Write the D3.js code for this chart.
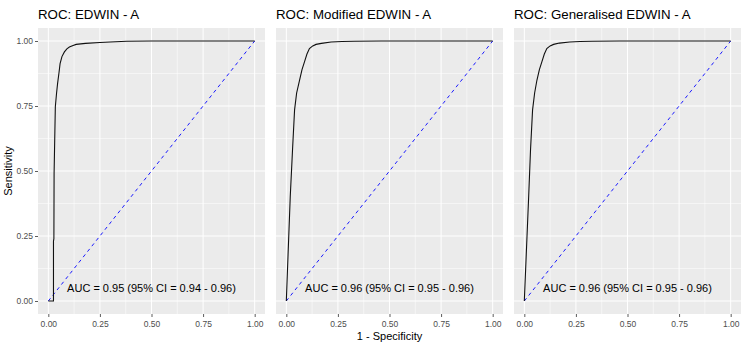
<!DOCTYPE html>
<html lang="en">

<head>
    <meta charset="UTF-8">
    <title>ROC</title>
    <script src="https://d3js.org/d3.v7.min.js"></script>
    <style>
        body {
            margin: 0;
            background: #fff;
        }

        svg text {
            font-family: "Liberation Sans", Arial, sans-serif;
        }
    </style>
</head>

<body>
    <svg class="chart" width="744" height="346"></svg>

    <script>
        // podaci ocitani sa slike
        const titles = ["ROC: EDWIN - A", "ROC: Modified EDWIN - A", "ROC: Generalised EDWIN - A"];
        const aucLabels = [
            "AUC = 0.95 (95% CI = 0.94 - 0.96)",
            "AUC = 0.96 (95% CI = 0.95 - 0.96)",
            "AUC = 0.96 (95% CI = 0.95 - 0.96)"
        ];
        const ticks = [0, 0.25, 0.5, 0.75, 1];
        const minorTicks = [0.125, 0.375, 0.625, 0.875];

        const edwinFpr = [0, 0.025, 0.025, 0.027, 0.028, 0.031, 0.034, 0.040, 0.045, 0.052, 0.057, 0.066, 0.078, 0.090, 0.102, 0.120, 0.135, 0.18, 0.25, 0.30, 0.38, 0.5, 1];
        const edwinTpr = [0, 0, 0.23, 0.24, 0.49, 0.62, 0.747, 0.80, 0.837, 0.88, 0.913, 0.94, 0.958, 0.970, 0.977, 0.983, 0.987, 0.991, 0.994, 0.996, 0.999, 1, 1];

        const modFpr = [0, 0.019, 0.030, 0.040, 0.050, 0.064, 0.076, 0.088, 0.100, 0.112, 0.128, 0.144, 0.17, 0.217, 0.27, 0.33, 0.46, 1];
        const modTpr = [0, 0.40, 0.58, 0.735, 0.80, 0.849, 0.89, 0.920, 0.950, 0.971, 0.981, 0.987, 0.991, 0.996, 0.998, 0.999, 1, 1];

        const genFpr = [0, 0.021, 0.030, 0.040, 0.050, 0.061, 0.073, 0.085, 0.097, 0.109, 0.125, 0.142, 0.17, 0.22, 0.27, 0.33, 0.46, 1];
        const genTpr = [0, 0.40, 0.58, 0.735, 0.80, 0.849, 0.89, 0.920, 0.950, 0.971, 0.981, 0.987, 0.992, 0.996, 0.998, 0.999, 1, 1];

        const curves = [
            edwinFpr.map((x, i) => [x, edwinTpr[i]]),
            modFpr.map((x, i) => [x, modTpr[i]]),
            genFpr.map((x, i) => [x, genTpr[i]])
        ];

        const svg = d3.select(".chart");

        // dimenzije panela
        const panelLefts = [38, 276, 514];
        const panelW = 227;
        const panelTop = 28, panelBottom = 314;

        const yScale = d3.scaleLinear().domain([-0.05, 1.05]).range([panelBottom, panelTop]);

        panelLefts.forEach((left, p) => {
            const xScale = d3.scaleLinear().domain([-0.05, 1.05]).range([left, left + panelW]);
            const g = svg.append("g");

            // pozadina panela
            g.append("rect")
                .attr("x", left)
                .attr("y", panelTop)
                .attr("width", panelW)
                .attr("height", panelBottom - panelTop)
                .attr("fill", "#EBEBEB");

            // sporedna mreza
            minorTicks.forEach(t => {
                g.append("line")
                    .attr("x1", xScale(t)).attr("x2", xScale(t))
                    .attr("y1", panelTop).attr("y2", panelBottom)
                    .attr("stroke", "#fff").attr("stroke-width", 0.5);
                g.append("line")
                    .attr("x1", left).attr("x2", left + panelW)
                    .attr("y1", yScale(t)).attr("y2", yScale(t))
                    .attr("stroke", "#fff").attr("stroke-width", 0.5);
            });
            // glavna mreza
            ticks.forEach(t => {
                g.append("line")
                    .attr("x1", xScale(t)).attr("x2", xScale(t))
                    .attr("y1", panelTop).attr("y2", panelBottom)
                    .attr("stroke", "#fff").attr("stroke-width", 1);
                g.append("line")
                    .attr("x1", left).attr("x2", left + panelW)
                    .attr("y1", yScale(t)).attr("y2", yScale(t))
                    .attr("stroke", "#fff").attr("stroke-width", 1);
            });

            // dijagonala
            g.append("line")
                .attr("x1", xScale(0)).attr("y1", yScale(0))
                .attr("x2", xScale(1)).attr("y2", yScale(1))
                .attr("stroke", "#1a1aff")
                .attr("stroke-width", 1)
                .attr("stroke-dasharray", "3.5,3.5");

            // ROC krivulja
            const line = d3.line().x(d => xScale(d[0])).y(d => yScale(d[1]));
            g.append("path")
                .datum(curves[p])
                .attr("d", line)
                .attr("fill", "none")
                .attr("stroke", "#111")
                .attr("stroke-width", 1.1);

            // AUC tekst
            g.append("text")
                .attr("x", xScale(0.5))
                .attr("y", yScale(0.05))
                .attr("dy", "0.35em")
                .attr("text-anchor", "middle")
                .style("font-size", "11px")
                .attr("fill", "#000")
                .text(aucLabels[p]);

            // naslov
            g.append("text")
                .attr("x", left)
                .attr("y", 19)
                .style("font-size", "13.3px")
                .attr("fill", "#000")
                .text(titles[p]);

            // x-os
            const xAxis = g.append("g")
                .attr("transform", "translate(0," + panelBottom + ")")
                .call(d3.axisBottom(xScale).tickValues(ticks).tickFormat(d3.format(".2f")).tickSize(3).tickPadding(4));
            xAxis.select(".domain").remove();
            xAxis.selectAll("line").attr("stroke", "#333").attr("stroke-width", 0.8);
            xAxis.selectAll("text").attr("fill", "#4D4D4D").style("font-size", "8.5px")
                .style("font-family", "'Liberation Sans', Arial, sans-serif");

            // y-os samo na prvom panelu
            if (p === 0) {
                const yAxis = g.append("g")
                    .attr("transform", "translate(" + left + ",0)")
                    .call(d3.axisLeft(yScale).tickValues(ticks).tickFormat(d3.format(".2f")).tickSize(3).tickPadding(2));
                yAxis.select(".domain").remove();
                yAxis.selectAll("line").attr("stroke", "#333").attr("stroke-width", 0.8);
                yAxis.selectAll("text").attr("fill", "#4D4D4D").style("font-size", "8.5px")
                    .style("font-family", "'Liberation Sans', Arial, sans-serif");
            }
        });

        // naslovi osi
        svg.append("text")
            .attr("x", panelLefts[1] + panelW / 2)
            .attr("y", 340)
            .attr("text-anchor", "middle")
            .style("font-size", "11px")
            .text("1 - Specificity");

        svg.append("text")
            .attr("transform", "translate(12," + (panelTop + panelBottom) / 2 + ") rotate(-90)")
            .attr("text-anchor", "middle")
            .style("font-size", "11px")
            .text("Sensitivity");
    </script>
</body>

</html>
